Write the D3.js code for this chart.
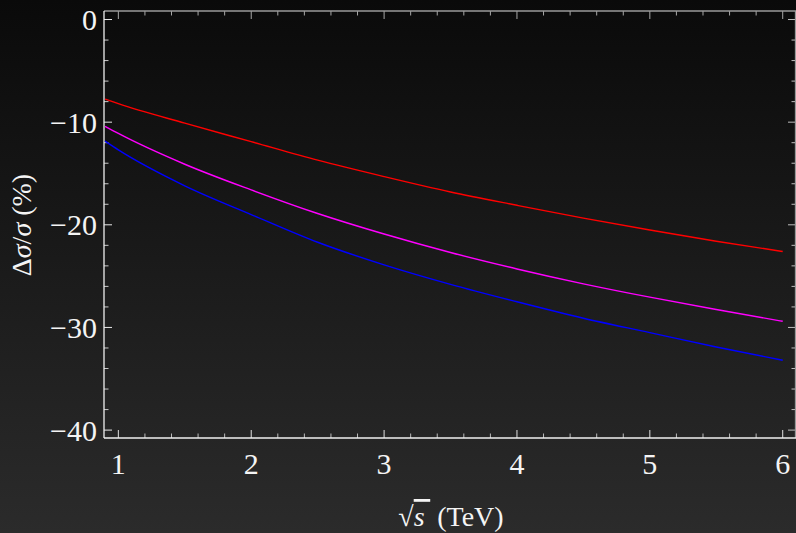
<!DOCTYPE html>
<html>
<head>
<meta charset="utf-8">
<script src="https://cdn.jsdelivr.net/npm/d3@7"></script>
<style>
  html, body { margin: 0; padding: 0; background: #1a1a1a; }
  svg { display: block; }
</style>
</head>
<body>
<svg id="chart" width="796" height="533"></svg>
<script>
// valori
const sqrtS = [0.9, 1.0, 1.5, 2.0, 2.5, 3.0, 3.5, 4.0, 4.5, 5.0, 5.5, 6.0];
const redSeries = [-7.75, -8.2, -10.1, -11.9, -13.7, -15.3, -16.8, -18.1, -19.35, -20.5, -21.6, -22.6];
const magentaSeries = [-10.4, -11.1, -14.1, -16.6, -18.9, -20.9, -22.7, -24.3, -25.75, -27.05, -28.25, -29.4];
const blueSeries = [-11.85, -12.7, -16.2, -19.0, -21.7, -23.9, -25.8, -27.5, -29.1, -30.5, -31.9, -33.2];
const xTicks = [1, 2, 3, 4, 5, 6];
const yTicks = [0, -10, -20, -30, -40];

const serif = 'Liberation Serif';
const textColor = '#f4f4f4';

const svg = d3.select('#chart');
const W = 796, H = 533;

// sfondo con gradiente verticale
const defs = svg.append('defs');
const grad = defs.append('linearGradient')
    .attr('id', 'bg').attr('x1', 0).attr('y1', 0).attr('x2', 0).attr('y2', 1);
grad.append('stop').attr('offset', '0%').attr('stop-color', '#0a0a0a');
grad.append('stop').attr('offset', '100%').attr('stop-color', '#2b2b2b');
svg.append('rect').attr('width', W).attr('height', H).attr('fill', 'url(#bg)');

const plotLeft = 104, plotRight = 796, plotTop = 11, plotBottom = 438;

const x = d3.scaleLinear().domain([0.892, 6.1]).range([plotLeft, plotRight]);
const y = d3.scaleLinear().domain([-40.77, 0.83]).range([plotBottom, plotTop]);

// tacche minori
const xMinor = d3.range(1, 6.01, 0.2).map(v => +v.toFixed(1)).filter(v => !xTicks.includes(v));
const yMinor = d3.range(-40, 0.01, 2).filter(v => !yTicks.includes(v));

const frame = svg.append('g');

// asse in basso (tacche verso l'alto)
frame.selectAll('.xb-major').data(xTicks).enter().append('line')
    .attr('x1', d => x(d)).attr('x2', d => x(d))
    .attr('y1', plotBottom).attr('y2', plotBottom - 8)
    .style('stroke', '#e0e0e0').style('stroke-width', 1);
frame.selectAll('.xb-minor').data(xMinor).enter().append('line')
    .attr('x1', d => x(d)).attr('x2', d => x(d))
    .attr('y1', plotBottom).attr('y2', plotBottom - 4.5)
    .style('stroke', '#bdbdbd').style('stroke-width', 1);

// asse in alto (tacche verso il basso)
frame.selectAll('.xt-major').data(xTicks).enter().append('line')
    .attr('x1', d => x(d)).attr('x2', d => x(d))
    .attr('y1', plotTop).attr('y2', plotTop + 8)
    .style('stroke', '#a8a8a8').style('stroke-width', 1);
frame.selectAll('.xt-minor').data(xMinor).enter().append('line')
    .attr('x1', d => x(d)).attr('x2', d => x(d))
    .attr('y1', plotTop).attr('y2', plotTop + 4.5)
    .style('stroke', '#a8a8a8').style('stroke-width', 1);

// asse a sinistra (tacche verso destra)
frame.selectAll('.yl-major').data(yTicks).enter().append('line')
    .attr('x1', plotLeft).attr('x2', plotLeft + 8)
    .attr('y1', d => y(d)).attr('y2', d => y(d))
    .style('stroke', '#e8e8e8').style('stroke-width', 1);
frame.selectAll('.yl-minor').data(yMinor).enter().append('line')
    .attr('x1', plotLeft).attr('x2', plotLeft + 4.5)
    .attr('y1', d => y(d)).attr('y2', d => y(d))
    .style('stroke', '#c8c8c8').style('stroke-width', 1);

// asse a destra (tacche verso sinistra)
frame.selectAll('.yr-major').data(yTicks).enter().append('line')
    .attr('x1', plotRight).attr('x2', plotRight - 8)
    .attr('y1', d => y(d)).attr('y2', d => y(d))
    .style('stroke', '#bdbdbd').style('stroke-width', 1);
frame.selectAll('.yr-minor').data(yMinor).enter().append('line')
    .attr('x1', plotRight).attr('x2', plotRight - 4.5)
    .attr('y1', d => y(d)).attr('y2', d => y(d))
    .style('stroke', '#bdbdbd').style('stroke-width', 1);

// bordi
frame.append('line').attr('x1', plotLeft).attr('x2', plotRight).attr('y1', plotTop).attr('y2', plotTop)
    .style('stroke', '#9a9a9a').style('stroke-width', 1.3);
frame.append('line').attr('x1', plotRight - 0.5).attr('x2', plotRight - 0.5).attr('y1', plotTop).attr('y2', plotBottom)
    .style('stroke', '#9a9a9a').style('stroke-width', 1.3);
frame.append('line').attr('x1', plotLeft).attr('x2', plotRight).attr('y1', plotBottom).attr('y2', plotBottom)
    .style('stroke', '#f0f0f0').style('stroke-width', 1.3);
frame.append('line').attr('x1', plotLeft).attr('x2', plotLeft).attr('y1', plotTop).attr('y2', plotBottom)
    .style('stroke', '#f0f0f0').style('stroke-width', 1.3);

// etichette delle tacche
svg.selectAll('.x-label').data(xTicks).enter().append('text')
    .attr('x', d => x(d)).attr('y', 474)
    .attr('font-family', serif).attr('font-size', 30).attr('fill', textColor)
    .attr('text-anchor', 'middle')
    .text(d => d);
svg.selectAll('.y-label').data(yTicks).enter().append('text')
    .attr('x', 97).attr('y', d => y(d) + 10.5)
    .attr('font-family', serif).attr('font-size', 30).attr('fill', textColor)
    .attr('text-anchor', 'end')
    .text(d => d < 0 ? '\u2212' + Math.abs(d) : d);

// curve
const series = [
    { values: blueSeries, color: '#0000ff' },
    { values: magentaSeries, color: '#ff00ff' },
    { values: redSeries, color: '#ff0000' }
];
const line = d3.line()
    .x(d => x(d[0]))
    .y(d => y(d[1]))
    .curve(d3.curveMonotoneX);

svg.append('g').selectAll('path').data(series).enter().append('path')
    .attr('d', s => line(sqrtS.map((v, i) => [v, s.values[i]])))
    .style('fill', 'none')
    .style('stroke', s => s.color)
    .style('stroke-width', 1.4);

// titoli degli assi
const xt = svg.append('text')
    .attr('x', 451).attr('y', 526)
    .attr('font-family', serif).attr('font-size', 28).attr('fill', textColor)
    .attr('text-anchor', 'middle');
xt.append('tspan').text('\u221A');
xt.append('tspan').attr('font-style', 'italic').attr('text-decoration', 'overline').text('s\u2009');
xt.append('tspan').text(' (TeV)');

const yt = svg.append('text')
    .attr('transform', 'translate(31, 225) rotate(-90)')
    .attr('font-family', serif).attr('font-size', 28).attr('fill', textColor)
    .attr('text-anchor', 'middle');
yt.append('tspan').text('\u0394');
yt.append('tspan').attr('font-style', 'italic').text('\u03C3');
yt.append('tspan').text('/');
yt.append('tspan').attr('font-style', 'italic').text('\u03C3');
yt.append('tspan').text(' (%)');
</script>
</body>
</html>
